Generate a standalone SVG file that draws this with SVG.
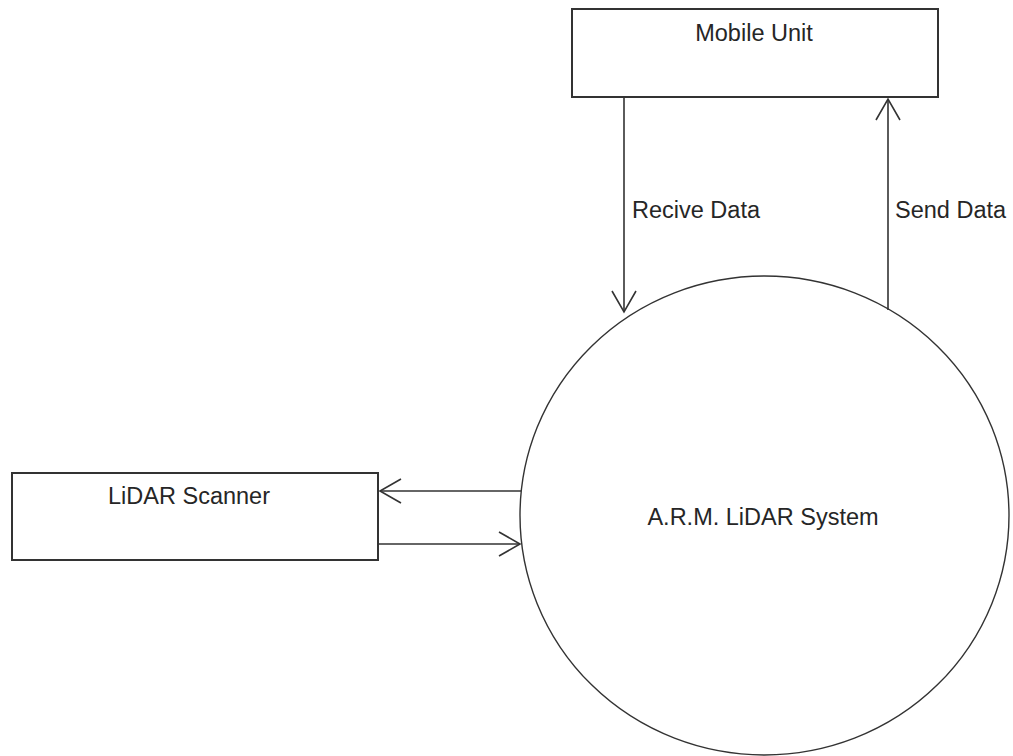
<svg xmlns="http://www.w3.org/2000/svg" width="1013" height="756" viewBox="0 0 1013 756">
<defs>
<marker id="open" viewBox="0 0 24 28" refX="22" refY="14" markerWidth="24" markerHeight="28" markerUnits="userSpaceOnUse" orient="auto">
<path d="M1,2 L22,14 L1,26" fill="none" stroke="#333" stroke-width="1.6"/>
</marker>
<style>
.box{fill:#fff;stroke:#333;stroke-width:2}
.proc{fill:#fff;stroke:#333;stroke-width:1.4}
.lbl{font-family:"Liberation Sans",Arial,sans-serif;font-size:23.5px;fill:#262626}
.flow{fill:none;stroke:#333;stroke-width:1.6;marker-end:url(#open)}
</style>
</defs>
<rect width="1013" height="756" fill="#fff"/>
<g id="mobile-unit">
<rect class="box" x="572" y="9" width="366" height="88"/>
<text class="lbl" x="754" y="41" text-anchor="middle">Mobile Unit</text>
</g>
<g id="lidar-scanner">
<rect class="box" x="12" y="473" width="366" height="87"/>
<text class="lbl" x="189" y="504" text-anchor="middle">LiDAR Scanner</text>
</g>
<g id="arm-system">
<ellipse class="proc" cx="764.5" cy="515.5" rx="244.5" ry="239.5"/>
<text class="lbl" x="763" y="525" text-anchor="middle">A.R.M. LiDAR System</text>
</g>
<g id="connectors">
<path class="flow" d="M624,97 L624,312"/>
<path class="flow" d="M888,310 L888,99"/>
<path class="flow" d="M521,491 L380,491"/>
<path class="flow" d="M378,544 L520,544"/>
<text class="lbl" x="632" y="218">Recive Data</text>
<text class="lbl" x="895" y="218">Send Data</text>
</g>
</svg>
